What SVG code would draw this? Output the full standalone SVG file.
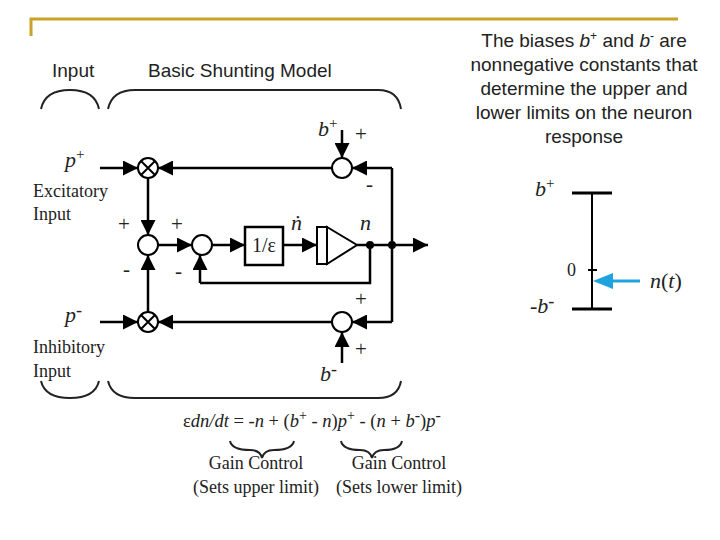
<svg xmlns="http://www.w3.org/2000/svg" width="720" height="540" viewBox="0 0 720 540">
<defs>
<marker id="ah" viewBox="0 0 10 10" refX="10" refY="5" markerWidth="6" markerHeight="6" orient="auto"><path d="M0,0 L10,5 L0,10 z" fill="#000"/></marker>
</defs>
<style>
.w{stroke:#000;stroke-width:2.5;fill:none}
.a{stroke:#000;stroke-width:2.5;fill:none;marker-end:url(#ah)}
.c{stroke:#000;stroke-width:2;fill:#fff}
.s{font-family:"Liberation Sans",Arial,sans-serif;font-size:19px;fill:#222}
.t{font-family:"Liberation Serif","Times New Roman",serif;font-size:18px;fill:#222}
.i{font-family:"Liberation Serif","Times New Roman",serif;font-size:22px;font-style:italic;fill:#222}
.b{stroke:#222;stroke-width:2;fill:none}
</style>
<rect width="720" height="540" fill="#fff"/>
<path d="M31,36 V19 H678" stroke="#c9a227" stroke-width="3" fill="none"/>
<text class="s" x="52" y="77">Input</text>
<text class="s" x="148" y="77">Basic Shunting Model</text>
<g id="braces">
<path class="b" d="M41,109 Q45,90 70,90 Q95,90 99,109"/>
<path class="b" d="M108,109 Q112,90 135,90 L378,90 Q398,90 401,109"/>
<path class="b" d="M41,381 Q45,398 70,398 Q95,398 99,381"/>
<path class="b" d="M108,381 Q112,398 135,398 L378,398 Q398,398 401,381"/>
<path class="b" d="M230,441 Q232,450 250,450 Q260,450 262,458 Q264,450 274,450 Q292,450 294,441"/>
<path class="b" d="M341,441 Q343,450 360,450 Q370,450 372,458 Q374,450 384,450 Q400,450 402,441"/>
</g>
<g id="connectors">
<path class="a" d="M100,168 H138"/>
<path class="a" d="M100,322 H138"/>
<path class="a" d="M148,178 V235"/>
<path class="a" d="M148,312 V255"/>
<path class="a" d="M158,245 H192"/>
<path class="a" d="M212,245 H245"/>
<path class="a" d="M283,245 H317"/>
<path class="w" d="M357,245 H392"/>
<path class="a" d="M392,245 H428"/>
<path class="w" d="M370,245 V283 H200"/>
<path class="a" d="M200,283 V255"/>
<path class="a" d="M332,168 H158"/>
<path class="a" d="M332,322 H158"/>
<path class="a" d="M392,168 V322 M392,168 H352"/>
<path class="a" d="M392,322 H352"/>
<path class="a" d="M342,130 V158"/>
<path class="a" d="M342,363 V332"/>
<circle cx="370" cy="245" r="4" fill="#000"/>
<circle cx="392" cy="245" r="4" fill="#000"/>
</g>
<g id="mulTop"><circle class="c" cx="148" cy="168" r="10"/><path d="M141,161 L155,175 M155,161 L141,175" stroke="#000" stroke-width="2"/></g>
<g id="mulBot"><circle class="c" cx="148" cy="322" r="10"/><path d="M141,315 L155,329 M155,315 L141,329" stroke="#000" stroke-width="2"/></g>
<g id="sum1"><circle class="c" cx="148" cy="245" r="10"/></g>
<g id="sum2"><circle class="c" cx="202" cy="245" r="10"/></g>
<g id="sumTop"><circle class="c" cx="342" cy="168" r="10"/></g>
<g id="sumBot"><circle class="c" cx="342" cy="322" r="10"/></g>
<g id="gain"><rect x="245" y="227" width="38" height="38" class="c" style="stroke-width:2.5"/><text class="t" x="264" y="252" text-anchor="middle" style="font-size:20px">1/ε</text></g>
<g id="integrator"><rect x="317" y="227" width="10" height="37" class="c"/><path d="M327,227 L357,245 L327,264 z" class="c"/></g>
<g id="labels">
<text class="i" x="65" y="167">p<tspan font-size="15" dy="-8" font-style="normal">+</tspan></text>
<text class="t" x="33" y="197">Excitatory</text>
<text class="t" x="33" y="220">Input</text>
<text class="i" x="65" y="322">p<tspan font-size="18" dy="-6" font-style="normal">-</tspan></text>
<text class="t" x="33" y="353">Inhibitory</text>
<text class="t" x="33" y="377">Input</text>
<text class="i" x="318" y="136">b<tspan font-size="15" dy="-8" font-style="normal">+</tspan></text>
<text class="i" x="320" y="381">b<tspan font-size="18" dy="-6" font-style="normal">-</tspan></text>
<g class="t" style="font-size:21px">
<text x="355" y="141">+</text>
<text x="366" y="191">-</text>
<text x="118" y="231">+</text>
<text x="171" y="231">+</text>
<text x="123" y="276">-</text>
<text x="175" y="278">-</text>
<text x="355" y="306">+</text>
<text x="355" y="356">+</text>
</g>
<text class="i" x="291" y="230">ṅ</text>
<text class="i" x="360" y="230">n</text>
<text class="i" x="183" y="427" style="font-size:18.5px"><tspan font-style="normal">ε</tspan>dn/dt <tspan font-style="normal">= -</tspan>n <tspan font-style="normal">+ (</tspan>b<tspan font-size="14" dy="-7" font-style="normal">+</tspan><tspan dy="7" font-style="normal"> - </tspan>n<tspan font-style="normal">)</tspan>p<tspan font-size="14" dy="-7" font-style="normal">+</tspan><tspan dy="7" font-style="normal"> - (</tspan>n <tspan font-style="normal">+ </tspan>b<tspan font-size="16" dy="-6" font-style="normal">-</tspan><tspan dy="6" font-style="normal">)</tspan>p<tspan font-size="16" dy="-6" font-style="normal">-</tspan></text>
<text class="t" x="256" y="469" text-anchor="middle">Gain Control</text>
<text class="t" x="256" y="493" text-anchor="middle">(Sets upper limit)</text>
<text class="t" x="399" y="469" text-anchor="middle">Gain Control</text>
<text class="t" x="399" y="493" text-anchor="middle">(Sets lower limit)</text>
</g>
<g id="note" text-anchor="middle">
<text x="584" y="47" class="s">The biases <tspan font-style="italic">b</tspan><tspan font-size="12" dy="-7">+</tspan><tspan dy="7"> and </tspan><tspan font-style="italic">b</tspan><tspan font-size="12" dy="-7">-</tspan><tspan dy="7"> are</tspan></text>
<text x="584" y="71" class="s">nonnegative constants that</text>
<text x="584" y="95" class="s">determine the upper and</text>
<text x="584" y="119" class="s">lower limits on the neuron</text>
<text x="584" y="143" class="s">response</text>
</g>
<g id="scale">
<path d="M572,193 H612 M572,309 H612" stroke="#000" stroke-width="3"/>
<path d="M592,193 V309 M588,270 H597" stroke="#000" stroke-width="2"/>
<path d="M640,281 H610" stroke="#1fa3df" stroke-width="3"/>
<path d="M593,281 L613,273 L613,289 z" fill="#1fa3df"/>
<text class="i" x="535" y="196">b<tspan font-size="15" dy="-8" font-style="normal">+</tspan></text>
<text class="t" x="567" y="276">0</text>
<text class="i" x="530" y="313"><tspan font-style="normal">-</tspan>b<tspan font-size="18" dy="-6" font-style="normal">-</tspan></text>
<text class="i" x="650" y="288">n<tspan font-style="normal">(</tspan>t<tspan font-style="normal">)</tspan></text>
</g>
</svg>
